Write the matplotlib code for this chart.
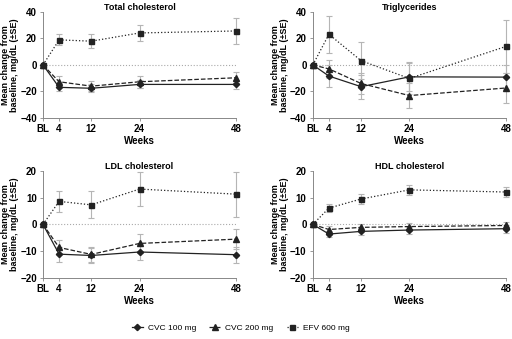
import matplotlib
matplotlib.use('Agg')
import matplotlib.pyplot as plt
from matplotlib.lines import Line2D

plt.rcParams['font.family'] = ['Liberation Sans', 'DejaVu Sans']

weeks = [0, 4, 12, 24, 48]
week_labels = ['BL', '4', '12', '24', '48']

# Total cholesterol
tc_cvc100 = [0, -16.9, -17.6, -14.7, -14.7]
tc_cvc100_se = [0, 3.0, 3.0, 3.0, 3.5]
tc_cvc200 = [0, -12.7, -16.0, -12.7, -9.7]
tc_cvc200_se = [0, 4.0, 3.5, 4.5, 4.0]
tc_efv = [0, 18.9, 17.9, 24.1, 25.6]
tc_efv_se = [0, 4.2, 5.2, 6.2, 9.5]

# Triglycerides
tg_cvc100 = [0, -8.4, -16.4, -9.0, -9.2]
tg_cvc100_se = [0, 8.0, 9.0, 11.0, 9.0]
tg_cvc200 = [0, -3.0, -14.0, -23.1, -17.4]
tg_cvc200_se = [0, 7.0, 8.0, 9.5, 11.0]
tg_efv = [0, 23.1, 3.2, -10.2, 13.9]
tg_efv_se = [0, 14.0, 14.0, 12.0, 20.0]

# LDL cholesterol
ldl_cvc100 = [0, -11.1, -11.6, -10.3, -11.3]
ldl_cvc100_se = [0, 2.8, 2.8, 3.0, 3.0]
ldl_cvc200 = [0, -8.6, -11.2, -7.1, -5.5]
ldl_cvc200_se = [0, 2.6, 2.8, 3.4, 3.7]
ldl_efv = [0, 8.6, 7.3, 13.2, 11.3]
ldl_efv_se = [0, 4.0, 5.0, 6.3, 8.4]

# HDL cholesterol
hdl_cvc100 = [0, -3.6, -2.6, -2.1, -1.6]
hdl_cvc100_se = [0, 1.2, 1.2, 1.3, 1.5]
hdl_cvc200 = [0, -1.9, -1.1, -0.8, -0.4]
hdl_cvc200_se = [0, 1.2, 1.2, 1.2, 1.2]
hdl_efv = [0, 6.1, 9.5, 12.9, 12.1]
hdl_efv_se = [0, 1.5, 2.0, 2.0, 2.0]

fig = plt.figure(figsize=(5.12, 3.39), dpi=100)

panels = [
    ('Total cholesterol', [0.084, 0.652, 0.377, 0.313], (-40, 40), [-40, -20, 0, 20, 40],
     (tc_cvc100, tc_cvc100_se), (tc_cvc200, tc_cvc200_se), (tc_efv, tc_efv_se)),
    ('Triglycerides', [0.611, 0.652, 0.377, 0.313], (-40, 40), [-40, -20, 0, 20, 40],
     (tg_cvc100, tg_cvc100_se), (tg_cvc200, tg_cvc200_se), (tg_efv, tg_efv_se)),
    ('LDL cholesterol', [0.084, 0.180, 0.377, 0.316], (-20, 20), [-20, -10, 0, 10, 20],
     (ldl_cvc100, ldl_cvc100_se), (ldl_cvc200, ldl_cvc200_se), (ldl_efv, ldl_efv_se)),
    ('HDL cholesterol', [0.611, 0.180, 0.377, 0.316], (-20, 20), [-20, -10, 0, 10, 20],
     (hdl_cvc100, hdl_cvc100_se), (hdl_cvc200, hdl_cvc200_se), (hdl_efv, hdl_efv_se)),
]

styles = [('-', 'D', 3.2), ('--', '^', 4.0), (':', 's', 3.6)]
err_col = '#b5b5b5'

for title, rect, ylim, yticks, *series in panels:
    ax = fig.add_axes(rect)
    ax.axhline(0, color='#aaaaaa', lw=0.8, ls=':', zorder=1)
    for (vals, se), (ls, mk, ms) in zip(series, styles):
        ax.errorbar(weeks, vals, yerr=se, fmt='none', ecolor=err_col,
                    elinewidth=0.8, capsize=2, capthick=0.8, zorder=2, clip_on=False)
        ax.plot(weeks, vals, color='#222222', ls=ls, lw=0.9, marker=mk, ms=ms,
                zorder=3, clip_on=False)
    ax.set_xlim(0, 48)
    ax.set_ylim(*ylim)
    ax.set_yticks(yticks)
    ax.set_xticks(weeks)
    ax.set_xticklabels(week_labels)
    for lab in ax.get_xticklabels() + ax.get_yticklabels():
        lab.set_fontweight('bold')
    ax.tick_params(labelsize=7, length=2.5, width=0.6, color='#888888', pad=2)
    for s in ['top', 'right']:
        ax.spines[s].set_visible(False)
    for s in ['left', 'bottom']:
        ax.spines[s].set_color('#888888')
        ax.spines[s].set_linewidth(0.7)
    ax.set_title(title, fontsize=6.5, fontweight='bold', pad=1.5)
    ax.set_xlabel('Weeks', fontsize=7, fontweight='bold', labelpad=1)
    ax.set_ylabel('Mean change from\nbaseline, mg/dL (\u00b1SE)', fontsize=6.5,
                  fontweight='bold', labelpad=1, linespacing=1.0)

handles = [
    Line2D([], [], color='#222222', ls='-', lw=0.9, marker='D', ms=3.2),
    Line2D([], [], color='#222222', ls='--', lw=0.9, marker='^', ms=4.0),
    Line2D([], [], color='#222222', ls=':', lw=0.9, marker='s', ms=3.6),
]
fig.legend(handles, ['CVC 100 mg', 'CVC 200 mg', 'EFV 600 mg'], loc='center',
           bbox_to_anchor=(0.47, 0.032), ncol=3, frameon=False, fontsize=6,
           handlelength=1.3, columnspacing=1.6, handletextpad=0.6)

fig.savefig('out.png', dpi=100)
